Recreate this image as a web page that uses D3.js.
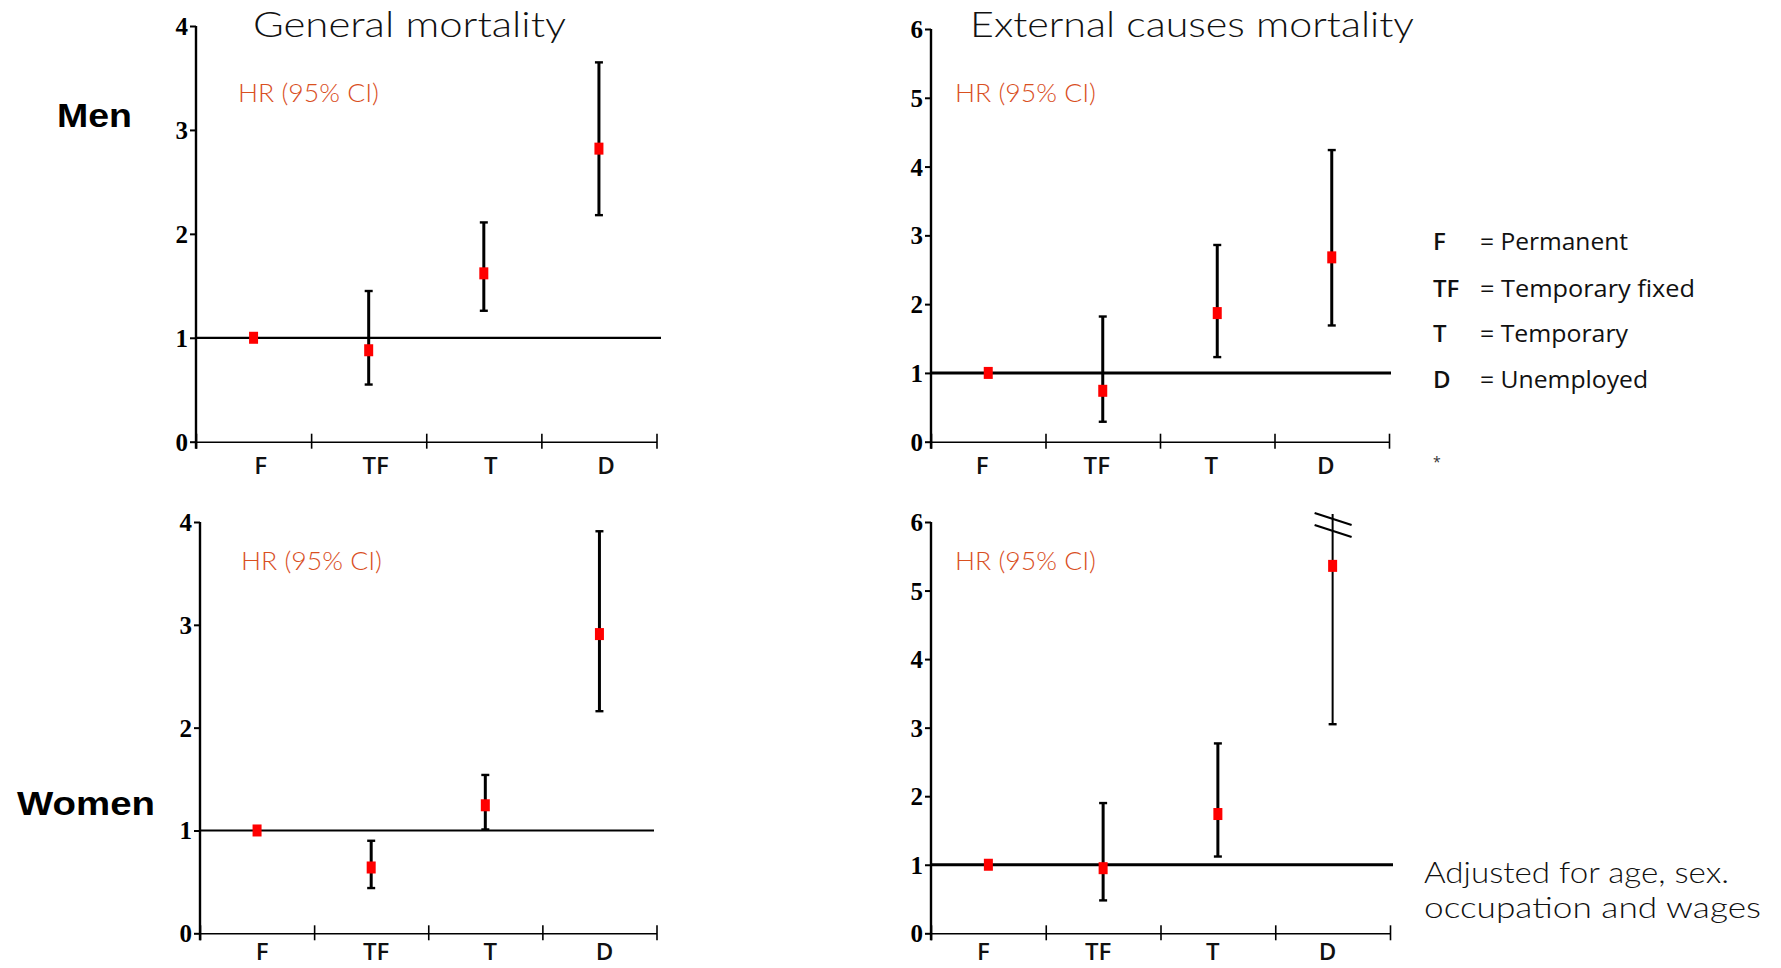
<!DOCTYPE html>
<html>
<head>
<meta charset="utf-8">
<script src="https://cdn.jsdelivr.net/npm/d3@7"></script>
<style>
  html, body { margin: 0; padding: 0; background: #ffffff; }
  svg { display: block; }
</style>
</head>
<body>
<svg id="chart" width="1781" height="968"></svg>
<script>
// ---------------- DATA ----------------
const categories = ["F", "TF", "T", "D"];

const menGeneralHR   = [1.00, 0.88, 1.62, 2.82];
const menGeneralLow  = [null, 0.55, 1.26, 2.18];
const menGeneralHigh = [null, 1.45, 2.11, 3.65];

const menExternalHR   = [1.00, 0.74, 1.87, 2.68];
const menExternalLow  = [null, 0.29, 1.23, 1.69];
const menExternalHigh = [null, 1.82, 2.86, 4.24];

const womenGeneralHR   = [1.00, 0.64, 1.245, 2.91];
const womenGeneralLow  = [null, 0.44, 1.01, 2.16];
const womenGeneralHigh = [null, 0.90, 1.54, 3.91];

const womenExternalHR   = [1.00, 0.95, 1.74, 5.36];
const womenExternalLow  = [null, 0.48, 1.12, 3.05];
const womenExternalHigh = [null, 1.90, 2.77, "off-scale"]; // upper limit beyond the axis (broken)

const generalTicks  = [0, 1, 2, 3, 4];
const externalTicks = [0, 1, 2, 3, 4, 5, 6];
const referenceHR = 1;

const legendKeys  = ["F", "TF", "T", "D"];
const legendTexts = ["= Permanent", "= Temporary fixed", "= Temporary", "= Unemployed"];

const titleGeneral  = "General mortality";
const titleExternal = "External causes mortality";
const hrLabel = "HR (95% CI)";
const noteLines = ["Adjusted for age, sex.", "occupation and wages"];

// ---------------- LAYOUT ----------------
const svg = d3.select("#chart");
const RED = "#ff0000";
const ORANGE = "#d9501f";
const SERIF = "'Liberation Serif', 'Times New Roman', serif";
const SANS = "'Open Sans', 'Noto Sans', sans-serif";
const THIN = "Lato, 'DejaVu Sans', sans-serif";

const panels = [
  { hr: menGeneralHR, lo: menGeneralLow, hi: menGeneralHigh, ticks: generalTicks,
    x0: 196, x1: 656.5, yB: 441.7, yT: 26, yMax: 4, refEnd: 661, refW: 2.2,
    labelShift: 7, labelY: 474, hrX: 238, hrY: 102 },
  { hr: menExternalHR, lo: menExternalLow, hi: menExternalHigh, ticks: externalTicks,
    x0: 931, x1: 1389, yB: 441.7, yT: 29, yMax: 6, refEnd: 1391, refW: 3,
    labelShift: -6, labelY: 474, hrX: 955, hrY: 102 },
  { hr: womenGeneralHR, lo: womenGeneralLow, hi: womenGeneralHigh, ticks: generalTicks,
    x0: 200, x1: 656.5, yB: 933.3, yT: 522, yMax: 4, refEnd: 654, refW: 2.2,
    labelShift: 5, labelY: 960, hrX: 241, hrY: 570 },
  { hr: womenExternalHR, lo: womenExternalLow, hi: womenExternalHigh, ticks: externalTicks,
    x0: 931, x1: 1390, yB: 933.3, yT: 522, yMax: 6, refEnd: 1393, refW: 3,
    labelShift: -5, labelY: 960, hrX: 955, hrY: 570 }
];

function drawPanel(p) {
  const g = svg.append("g");
  const x = d3.scaleBand().domain(categories).range([p.x0, p.x1]);
  const xEdge = d3.scaleLinear().domain([0, categories.length]).range([p.x0, p.x1]);
  const y = d3.scaleLinear().domain([0, p.yMax]).range([p.yB, p.yT]);

  // Y axis
  const yAx = g.append("g")
    .attr("transform", `translate(${p.x0},0)`)
    .call(d3.axisLeft(y).tickValues(p.ticks).tickSize(6).tickPadding(2).tickFormat(d3.format("d")));
  yAx.select(".domain").remove();
  yAx.selectAll(".tick line").attr("stroke", "#000").attr("stroke-width", 2);
  yAx.selectAll(".tick text")
    .attr("font-family", SERIF).attr("font-weight", "bold").attr("font-size", 25)
    .attr("fill", "#000").attr("dy", "0.34em");
  g.append("line")
    .attr("x1", p.x0).attr("x2", p.x0)
    .attr("y1", y(p.yMax)).attr("y2", p.yB + 7)
    .attr("stroke", "#000").attr("stroke-width", 2.4);

  // X axis (ticks at category boundaries)
  const xAx = g.append("g")
    .attr("transform", `translate(0,${p.yB})`)
    .call(d3.axisBottom(xEdge).tickValues(d3.range(categories.length + 1)).tickSize(7).tickSizeOuter(0).tickFormat(""));
  xAx.select(".domain").attr("stroke", "#000").attr("stroke-width", 1.6);
  xAx.selectAll(".tick line").attr("y1", -8).attr("stroke", "#000").attr("stroke-width", 1.6);

  // category labels
  g.selectAll(".cat").data(categories).enter().append("text")
    .attr("x", d => x(d) + x.bandwidth() / 2 + p.labelShift)
    .attr("y", p.labelY)
    .attr("text-anchor", "middle")
    .attr("font-family", SANS).attr("font-weight", 600).attr("font-size", 24)
    .attr("fill", "#111")
    .text(d => d);

  // reference line at HR = 1
  g.append("line")
    .attr("x1", p.x0).attr("x2", p.refEnd)
    .attr("y1", y(referenceHR)).attr("y2", y(referenceHR))
    .attr("stroke", "#000").attr("stroke-width", p.refW);

  // error bars
  const rows = categories.map((c, i) => ({ c, hr: p.hr[i], lo: p.lo[i], hi: p.hi[i] }));
  const withCI = rows.filter(r => r.lo !== null);
  const capW = 4;
  withCI.forEach(r => {
    const cx = x(r.c) + x.bandwidth() / 2;
    const broken = typeof r.hi !== "number";
    const topY = broken ? y(p.yMax) - 8 : y(r.hi);
    g.append("line").attr("x1", cx).attr("x2", cx).attr("y1", topY).attr("y2", y(r.lo))
      .attr("stroke", "#000").attr("stroke-width", broken ? 2 : 3);
    g.append("line").attr("x1", cx - capW).attr("x2", cx + capW).attr("y1", y(r.lo)).attr("y2", y(r.lo))
      .attr("stroke", "#000").attr("stroke-width", 2.4);
    if (!broken) {
      g.append("line").attr("x1", cx - capW).attr("x2", cx + capW).attr("y1", y(r.hi)).attr("y2", y(r.hi))
        .attr("stroke", "#000").attr("stroke-width", 2.4);
    } else {
      [-3, 9].forEach(off => {
        const yc = y(p.yMax) + off;
        g.append("line")
          .attr("x1", cx - 18).attr("x2", cx + 19)
          .attr("y1", yc - 6).attr("y2", yc + 6)
          .attr("stroke", "#000").attr("stroke-width", 2.2);
      });
    }
  });

  // point estimates
  g.selectAll(".pt").data(rows).enter().append("rect")
    .attr("x", d => x(d.c) + x.bandwidth() / 2 - 4.5)
    .attr("y", d => y(d.hr) - 6)
    .attr("width", 9).attr("height", 12)
    .attr("fill", RED);

  // HR label
  g.append("text")
    .attr("x", p.hrX).attr("y", p.hrY)
    .attr("font-family", THIN).attr("font-weight", 300).attr("font-size", 25)
    .attr("fill", ORANGE)
    .attr("textLength", 141).attr("lengthAdjust", "spacingAndGlyphs")
    .text(hrLabel);
}

panels.forEach(drawPanel);

// Titles
svg.append("text").attr("x", 253).attr("y", 37)
  .attr("font-family", THIN).attr("font-weight", 300).attr("font-size", 35).attr("fill", "#111")
  .attr("textLength", 313).attr("lengthAdjust", "spacingAndGlyphs")
  .text(titleGeneral);
svg.append("text").attr("x", 970).attr("y", 37)
  .attr("font-family", THIN).attr("font-weight", 300).attr("font-size", 35).attr("fill", "#111")
  .attr("textLength", 444).attr("lengthAdjust", "spacingAndGlyphs")
  .text(titleExternal);

// Row labels
svg.append("text").attr("x", 57).attr("y", 127)
  .attr("font-family", "'Liberation Sans', Arial, sans-serif").attr("font-weight", "bold")
  .attr("font-size", 34).attr("fill", "#000")
  .attr("textLength", 75).attr("lengthAdjust", "spacingAndGlyphs")
  .text("Men");
svg.append("text").attr("x", 17).attr("y", 815)
  .attr("font-family", "'Liberation Sans', Arial, sans-serif").attr("font-weight", "bold")
  .attr("font-size", 34).attr("fill", "#000")
  .attr("textLength", 138).attr("lengthAdjust", "spacingAndGlyphs")
  .text("Women");

// Legend
const legendBase = [250, 296.5, 342, 388];
const legendWidths = [148, 215, 148, 168];
const lg = svg.append("g");
legendKeys.forEach((k, i) => {
  lg.append("text").attr("x", 1433).attr("y", legendBase[i])
    .attr("font-family", SANS).attr("font-weight", 600).attr("font-size", 24).attr("fill", "#111")
    .text(k);
  lg.append("text").attr("x", 1480).attr("y", legendBase[i])
    .attr("font-family", SANS).attr("font-weight", 400).attr("font-size", 24).attr("fill", "#111")
    .attr("textLength", legendWidths[i]).attr("lengthAdjust", "spacingAndGlyphs")
    .text(legendTexts[i]);
});
lg.append("text").attr("x", 1433).attr("y", 467)
  .attr("font-family", SANS).attr("font-size", 14).attr("fill", "#333").text("*");

// Note
const noteWidths = [305, 337];
noteLines.forEach((t, i) => {
  svg.append("text").attr("x", 1424).attr("y", 883 + i * 35)
    .attr("font-family", THIN).attr("font-weight", 300).attr("font-size", 29).attr("fill", "#111")
    .attr("textLength", noteWidths[i]).attr("lengthAdjust", "spacingAndGlyphs")
    .text(t);
});
</script>
</body>
</html>
